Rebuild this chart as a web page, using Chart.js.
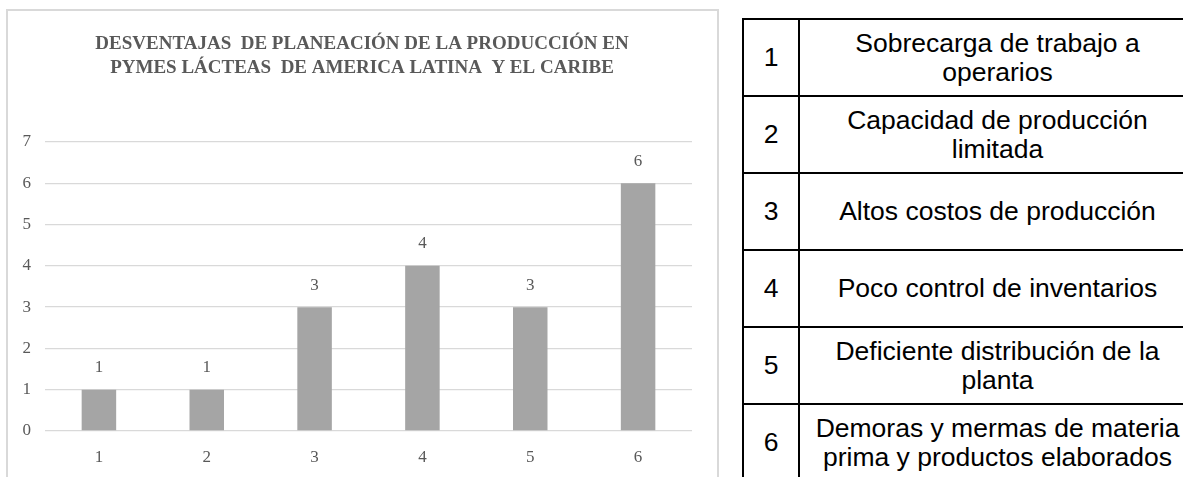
<!DOCTYPE html>
<html>
<head>
<meta charset="utf-8">
<script src="https://cdn.jsdelivr.net/npm/chart.js@4"></script>
<style>
  html, body { margin: 0; padding: 0; overflow: hidden; background: #fff; }
  body { width: 1183px; height: 477px; position: relative; }
  #frame {
    position: absolute; left: 6px; top: 9px; width: 713px; height: 500px;
    border: 2px solid #d9d9d9; box-sizing: border-box;
  }
  #wrap { position: absolute; left: 0; top: 0; width: 720px; height: 477px; }
  #legend {
    position: absolute; left: 742px; top: 18px; width: 475px;
    border-collapse: collapse; font-family: "Liberation Sans", Arial, sans-serif;
    font-size: 26.5px; color: #000;
  }
  #legend td {
    border: 2px solid #000; height: 75px; text-align: center; vertical-align: middle;
    line-height: 29px; padding: 0; white-space: pre-line;
  }
  #legend td.num { width: 54px; }
  #legend td.txt { padding-right: 20px; }
</style>
</head>
<body>
<div id="frame"></div>
<div id="wrap"><canvas id="myChart"></canvas></div>
<table id="legend"><tbody id="legendBody"></tbody></table>
<script>
  const categories = ['1', '2', '3', '4', '5', '6'];
  const values = [1, 1, 3, 4, 3, 6];
  const yTicks = [0, 1, 2, 3, 4, 5, 6, 7];
  const descriptions = [
    'Sobrecarga de trabajo a\noperarios',
    'Capacidad de producción\nlimitada',
    'Altos costos de producción',
    'Poco control de inventarios',
    'Deficiente distribución de la\nplanta',
    'Demoras y mermas de materia\nprima y productos elaborados'
  ];
  const chartTitle = [
    'DESVENTAJAS  DE PLANEACIÓN DE LA PRODUCCIÓN EN',
    'PYMES LÁCTEAS  DE AMERICA LATINA  Y EL CARIBE'
  ];

  const body = document.getElementById('legendBody');
  categories.forEach((c, i) => {
    const tr = document.createElement('tr');
    const a = document.createElement('td');
    a.className = 'num';
    a.textContent = c;
    const b = document.createElement('td');
    b.className = 'txt';
    b.textContent = descriptions[i];
    tr.appendChild(a);
    tr.appendChild(b);
    body.appendChild(tr);
  });

  const serif = '"Liberation Serif", "Times New Roman", serif';
  const grey = '#595959';

  // simple value labels above each bar
  const barLabels = {
    id: 'barLabels',
    afterLayout(chart) {
      // centre the title on the whole frame, not on the padded box
      if (chart.titleBlock) chart.titleBlock.left = 32;
    },
    afterDatasetsDraw(chart) {
      const ctx = chart.ctx;
      const meta = chart.getDatasetMeta(0);
      ctx.save();
      ctx.font = '17px ' + serif;
      ctx.fillStyle = grey;
      ctx.textAlign = 'center';
      ctx.textBaseline = 'middle';
      meta.data.forEach((bar, i) => {
        ctx.fillText(String(values[i]), bar.x, bar.y - 22);
      });
      ctx.restore();
    }
  };

  const numChart = document.getElementById('myChart');
  new Chart(numChart, {
    type: 'bar',
    data: {
      labels: categories,
      datasets: [{
        data: values,
        backgroundColor: '#a5a5a5',
        borderWidth: 0,
        categoryPercentage: 1,
        barPercentage: 0.32
      }]
    },
    options: {
      responsive: true,
      maintainAspectRatio: false,
      animation: false,
      layout: { padding: { left: 8, right: 28, top: 11, bottom: 0 } },
      plugins: {
        legend: { display: false },
        tooltip: { enabled: false },
        title: {
          display: true,
          text: chartTitle,
          color: grey,
          font: { family: serif, size: 19, weight: 'bold', lineHeight: '24px' },
          padding: { top: 21.5, bottom: 61.5 }
        }
      },
      scales: {
        x: {
          grid: { display: false, drawTicks: false },
          border: { display: false },
          ticks: { color: grey, font: { family: serif, size: 17 }, padding: 16 },
          afterFit(scale) { scale.height = 46; }
        },
        y: {
          min: 0,
          max: 7,
          afterBuildTicks(scale) { scale.ticks = yTicks.map(v => ({ value: v })); },
          grid: { color: '#d9d9d9', lineWidth: 1.3, drawTicks: false },
          border: { display: false },
          ticks: { color: grey, font: { family: serif, size: 17 }, padding: 14 },
          afterFit(scale) { scale.width = 37; }
        }
      }
    },
    plugins: [barLabels]
  });
</script>
</body>
</html>
